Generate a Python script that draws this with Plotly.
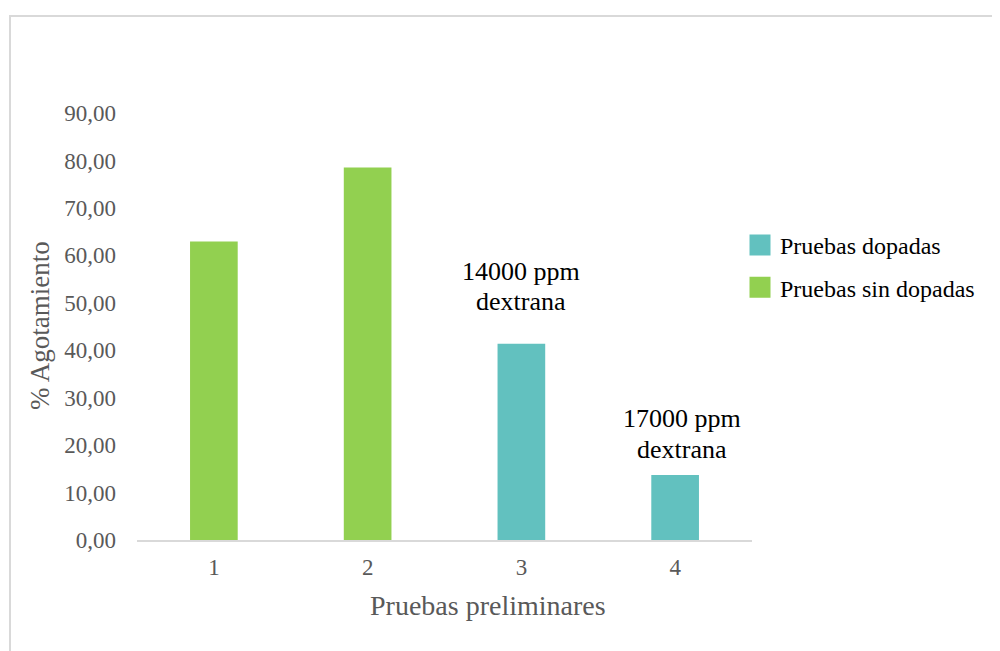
import plotly.graph_objects as go

categories = [1, 2, 3, 4]
x_labels = ["1", "2", "3", "4"]
sin_dopar_x = [1, 2]
sin_dopar_vals = [62.9, 78.5]
dopadas_x = [3, 4]
dopadas_vals = [41.35, 13.7]
y_ticks = [0, 10, 20, 30, 40, 50, 60, 70, 80, 90]
y_ticklabels = ["0,00", "10,00", "20,00", "30,00", "40,00", "50,00", "60,00", "70,00", "80,00", "90,00"]
note_line1 = ["14000 ppm", "17000 ppm"]
note_line2 = ["dextrana", "dextrana"]

FONT = "Liberation Serif"
GREEN = "#92d050"
TEAL = "#62c1bf"
GRAY = "#595959"

# page is rendered with an 8px body margin; work in page pixels, convert
OFF = 8
W, H = 1000 - OFF, 651 - OFF
PL, PR, PT, PB = 137, 752, 113, 540  # plot area in page pixels
L = PL - OFF
T = PT - OFF
R = W - (PR - OFF)
B = H - (PB - OFF)
pw = PR - PL
ph = PB - PT

def px_x(p):
    return (p - PL) / pw

def px_y(p):
    return (PB - p) / ph

fig = go.Figure()
fig.add_trace(go.Bar(x=dopadas_x, y=dopadas_vals, name="Pruebas dopadas",
                     marker=dict(color=TEAL, line=dict(width=0)), width=0.31,
                     legendgroup="a", showlegend=False))
fig.add_trace(go.Bar(x=sin_dopar_x, y=sin_dopar_vals, name="Pruebas sin dopadas",
                     marker=dict(color=GREEN, line=dict(width=0)), width=0.31,
                     legendgroup="b", showlegend=False))
# legend entries with larger square swatches
for nm, col, grp in (("Pruebas dopadas", TEAL, "a"), ("Pruebas sin dopadas", GREEN, "b")):
    fig.add_trace(go.Scatter(x=[None], y=[None], mode="markers", name=nm, legendgroup=grp,
                             marker=dict(symbol="square", size=16, color=col,
                                         line=dict(color=col, width=5)),
                             hoverinfo="skip"))

# label placement (pixels above bar top, horizontal nudge)
shift1 = [72, 57]
shift2 = [42, 26]
xshifts = [0, 7]

annotations = []
for xv, yv, t1, t2, s1, s2, xs in zip(dopadas_x, dopadas_vals, note_line1, note_line2,
                                      shift1, shift2, xshifts):
    for txt, s in ((t1, s1), (t2, s2)):
        annotations.append(dict(x=xv, y=yv, xref="x", yref="y", text=txt, showarrow=False,
                                yanchor="middle", yshift=s, xshift=xs,
                                font=dict(family=FONT, size=26, color="#000000")))
annotations.append(dict(x=px_x(488), y=px_y(605), xref="paper", yref="paper",
                        text="Pruebas preliminares", showarrow=False,
                        xanchor="center", yanchor="middle",
                        font=dict(family=FONT, size=28, color=GRAY)))
annotations.append(dict(x=px_x(40), y=px_y(326), xref="paper", yref="paper",
                        text="% Agotamiento", showarrow=False, textangle=-90,
                        xanchor="center", yanchor="middle",
                        font=dict(family=FONT, size=27, color=GRAY)))

fig.update_layout(
    width=W, height=H,
    margin=dict(l=L, r=R, t=T, b=B, autoexpand=False),
    paper_bgcolor="white", plot_bgcolor="white",
    barmode="overlay",
    font=dict(family=FONT, color=GRAY),
    showlegend=True,
    legend=dict(x=px_x(740), y=px_y(223), xanchor="left", yanchor="top",
                traceorder="grouped", tracegroupgap=8, itemsizing="trace",
                font=dict(family=FONT, size=24, color="#000000"),
                bgcolor="rgba(0,0,0,0)"),
    xaxis=dict(range=[0.5, 4.5], tickvals=categories, ticktext=x_labels,
               showgrid=False, zeroline=False, showline=True, linecolor="#d9d9d9",
               linewidth=2, ticks="", ticklabelstandoff=5,
               tickfont=dict(family=FONT, size=23, color=GRAY)),
    yaxis=dict(range=[0, 90], tickvals=y_ticks, ticktext=y_ticklabels,
               showgrid=False, zeroline=False, showline=False, ticks="",
               ticklabelstandoff=20,
               tickfont=dict(family=FONT, size=23, color=GRAY)),
    annotations=annotations,
    shapes=[dict(type="rect", xref="paper", yref="paper",
                 x0=px_x(10), x1=px_x(1010), y0=px_y(665), y1=px_y(16),
                 line=dict(color="#d9d9d9", width=2), fillcolor="rgba(0,0,0,0)",
                 layer="below")],
)

fig.write_html("out.html")
